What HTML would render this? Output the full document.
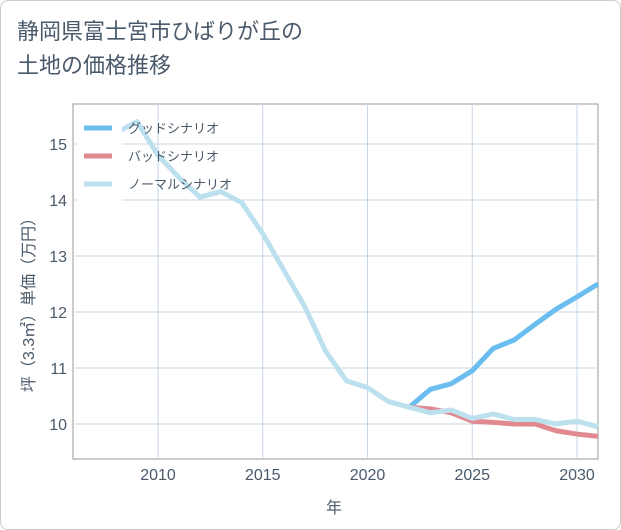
<!DOCTYPE html>
<html><head><meta charset="utf-8"><style>
body{margin:0;background:#fff;}
#wrap{position:relative;width:619px;height:528px;border:1px solid #ccc;border-radius:8px;background:#fff;overflow:hidden;font-family:"Liberation Sans","Noto Sans CJK JP",sans-serif;}
#title{position:absolute;left:16px;top:14px;font-size:22px;line-height:34px;color:#4a5a6a;}
</style></head><body>
<div id="wrap">
<div id="title">静岡県富士宮市ひばりが丘の<br>土地の価格推移</div>
<svg id="chart" width="621" height="530" style="position:absolute;left:0;top:0"></svg>
</div>
<script>
const years=[2008,2009,2010,2011,2012,2013,2014,2015,2016,2017,2018,2019,2020,2021,2022,2023,2024,2025,2026,2027,2028,2029,2030,2031];
const normalVals=[15.2,15.4,14.8,14.4,14.05,14.15,13.95,13.4,12.75,12.1,11.3,10.77,10.65,10.4,10.3,10.2,10.25,10.1,10.18,10.08,10.08,10.0,10.05,9.95];
const scenYears=[2022,2023,2024,2025,2026,2027,2028,2029,2030,2031];
const goodVals=[10.3,10.62,10.72,10.95,11.35,11.5,11.78,12.05,12.27,12.5];
const badVals=[10.3,10.27,10.2,10.05,10.03,10.0,10.0,9.88,9.82,9.78];
const xTicks=[2010,2015,2020,2025,2030];
const yTicks=[10,11,12,13,14,15];
const legendLabels=["グッドシナリオ","バッドシナリオ","ノーマルシナリオ"];
const NS="http://www.w3.org/2000/svg";
const svg=document.getElementById('chart');
const L=72,R=597,T=103,B=458;
const TC='#4a5a6a';
const xs=y=>157+(y-2010)*20.95;
const ys=v=>423-(v-10)*56;
function mk(t,a){const e=document.createElementNS(NS,t);for(const k in a)e.setAttribute(k,a[k]);svg.appendChild(e);return e;}
mk('rect',{x:L,y:T,width:R-L,height:B-T,fill:'#fff',stroke:'#999','stroke-width':1});
xTicks.forEach(t=>{const g=mk('line',{x1:xs(t),x2:xs(t),y1:T,y2:B,stroke:'#c9d6e3','stroke-width':1});

const tx=mk('text',{x:xs(t),y:479,'text-anchor':'middle','font-size':16,fill:TC});tx.textContent=t;
});
yTicks.forEach(t=>{const g=mk('line',{x1:L,x2:R,y1:ys(t),y2:ys(t),stroke:'#c9d6e3','stroke-width':1});

const tx=mk('text',{x:66,y:ys(t)+6,'text-anchor':'end','font-size':16,fill:TC});tx.textContent=t;
});
function line(xv,yv,c,n){const p=mk('polyline',{points:xv.map((x,i)=>xs(x)+','+ys(yv[i])).join(' '),fill:'none',stroke:c,'stroke-width':5,'stroke-linejoin':'round'});
}
line(scenYears,goodVals,'#6bbdf0','good-scenario-line');
line(scenYears,badVals,'#e08a90','bad-scenario-line');
line(years,normalVals,'#bde0ee','normal-scenario-line');
const lb=mk('rect',{x:76,y:110,width:45,height:90,fill:'#fff'});

const lc=['#6bbdf0','#e08a90','#bde0ee'];
legendLabels.forEach((s,i)=>{const y=127+i*28;
const l=mk('line',{x1:83,x2:111,y1:y,y2:y,stroke:lc[i],'stroke-width':5});

const t=mk('text',{x:127,y:y+5,'font-size':13,fill:TC});t.textContent=s;
});
const xt=mk('text',{x:333,y:512,'text-anchor':'middle','font-size':16,fill:TC});xt.textContent='年';

const yt=mk('text',{x:0,y:0,'text-anchor':'middle','font-size':16,fill:TC,transform:'translate(33,300) rotate(-90)'});yt.textContent='坪（3.3㎡）単価（万円）';

</script>
</body></html>
